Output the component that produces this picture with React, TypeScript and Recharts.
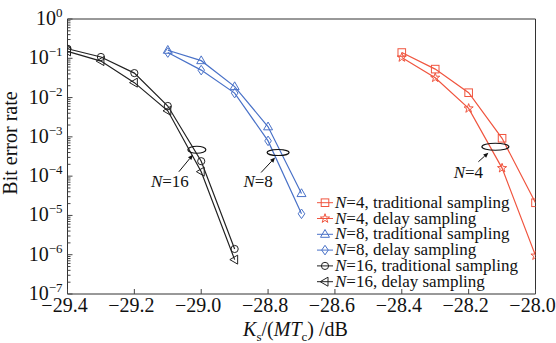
import React from 'react';
import { LineChart, Line, XAxis, YAxis, ReferenceArea, ReferenceDot, Legend } from 'recharts';

const X_N16 = [-29.4, -29.3, -29.2, -29.1, -29.0, -28.9];
const BER_N16_TRAD = [0.175, 0.108, 0.042, 0.0061, 2.4e-4, 1.4e-6];
const BER_N16_DELAY = [0.15, 0.085, 0.024, 0.0046, 1.3e-4, 7.5e-7];
const X_N8 = [-29.1, -29.0, -28.9, -28.8, -28.7];
const BER_N8_TRAD = [0.16, 0.087, 0.019, 1.8e-3, 3.6e-5];
const BER_N8_DELAY = [0.14, 0.05, 0.013, 7.9e-4, 1.1e-5];
const X_N4 = [-28.4, -28.3, -28.2, -28.1, -28.0];
const BER_N4_TRAD = [0.14, 0.053, 0.0133, 9.2e-4, 2.1e-5];
const BER_N4_DELAY = [0.105, 0.032, 5.3e-3, 1.6e-4, 9.5e-7];

const X_TICKS = [-29.4, -29.2, -29.0, -28.8, -28.6, -28.4, -28.2, -28.0];
const Y_DECADES = [-7, -6, -5, -4, -3, -2, -1, 0];
const Y_MINOR = [2, 3, 4, 5, 6, 7, 8, 9];

const RED = '#f0553f';
const BLUE = '#4a72c8';
const BLACK = '#222222';
const FONT = 'Liberation Serif';

const zip = (xs: number[], ys: number[]) => xs.map((x, i) => ({ x, y: ys[i] }));

const SERIES = [
  { name: 'N=4', label: '4, traditional sampling', data: zip(X_N4, BER_N4_TRAD), color: RED, marker: 'square' },
  { name: 'N=4d', label: '4, delay sampling', data: zip(X_N4, BER_N4_DELAY), color: RED, marker: 'star' },
  { name: 'N=8', label: '8, traditional sampling', data: zip(X_N8, BER_N8_TRAD), color: BLUE, marker: 'triangle' },
  { name: 'N=8d', label: '8, delay sampling', data: zip(X_N8, BER_N8_DELAY), color: BLUE, marker: 'diamond' },
  { name: 'N=16', label: '16, traditional sampling', data: zip(X_N16, BER_N16_TRAD), color: BLACK, marker: 'circle' },
  { name: 'N=16d', label: '16, delay sampling', data: zip(X_N16, BER_N16_DELAY), color: BLACK, marker: 'tleft' },
];

const Y_TICKS: number[] = [];
Y_DECADES.forEach(d => {
  Y_TICKS.push(Math.pow(10, d));
  if (d < 0) Y_MINOR.forEach(m => Y_TICKS.push(m * Math.pow(10, d)));
});

const Marker = ({ kind, cx, cy, color }: any) => {
  if (cx == null || cy == null) return null;
  const common = { fill: 'none', stroke: color, strokeWidth: 1 };
  switch (kind) {
    case 'square':
      return <rect x={cx - 3.8} y={cy - 3.8} width={7.6} height={7.6} {...common} />;
    case 'circle':
      return <circle cx={cx} cy={cy} r={3.6} {...common} />;
    case 'triangle':
      return <polygon points={`${cx},${cy - 4.8} ${cx + 4.5},${cy + 3} ${cx - 4.5},${cy + 3}`} {...common} />;
    case 'tleft':
      return <polygon points={`${cx - 4.8},${cy} ${cx + 3},${cy - 4.5} ${cx + 3},${cy + 4.5}`} {...common} />;
    case 'diamond':
      return <polygon points={`${cx},${cy - 4.8} ${cx + 3.3},${cy} ${cx},${cy + 4.8} ${cx - 3.3},${cy}`} {...common} />;
    case 'star': {
      const pts: string[] = [];
      for (let i = 0; i < 10; i++) {
        const r = i % 2 === 0 ? 4.8 : 1.9;
        const a = -Math.PI / 2 + (i * Math.PI) / 5;
        pts.push(`${cx + r * Math.cos(a)},${cy + r * Math.sin(a)}`);
      }
      return <polygon points={pts.join(' ')} {...common} />;
    }
  }
  return null;
};

const XTick = ({ x, y, payload }: any) => (
  <g>
    <line x1={x} y1={y} x2={x} y2={y - 5} stroke="#444" strokeWidth={1} />
    <text x={x - 3} y={y + 18} textAnchor="middle" fontFamily={FONT} fontSize={20} fill="#111">
      {payload.value.toFixed(1).replace('-', '\u2212')}
    </text>
  </g>
);

const YTick = ({ x, y, payload }: any) => {
  const lg = Math.log10(payload.value);
  const major = Math.abs(lg - Math.round(lg)) < 1e-6;
  if (!major) return <line x1={x} y1={y} x2={x + 3} y2={y} stroke="#444" strokeWidth={1} />;
  const exp = Math.round(lg);
  return (
    <g>
      <line x1={x} y1={y} x2={x + 5} y2={y} stroke="#444" strokeWidth={1} />
      <text x={x - 5} y={y + 6} textAnchor="end" fontFamily={FONT} fontSize={20} fill="#111">
        10<tspan dy={-8} fontSize={13}>{exp === 0 ? '0' : '\u2212' + Math.abs(exp)}</tspan>
      </text>
    </g>
  );
};

const XLabel = ({ viewBox }: any) => {
  const cx = viewBox.x + viewBox.width / 2 - 6;
  return (
    <text x={cx} y={336} textAnchor="middle" fontFamily={FONT} fontSize={20} fill="#111">
      <tspan fontStyle="italic">K</tspan>
      <tspan dy={5} fontSize={13}>s</tspan>
      <tspan dy={-5}>/(</tspan>
      <tspan fontStyle="italic">MT</tspan>
      <tspan dy={5} fontSize={13}>c</tspan>
      <tspan dy={-5}>) /dB</tspan>
    </text>
  );
};

const YLabel = () => (
  <text x={17} y={143} transform="rotate(-90 17 143)" textAnchor="middle" fontFamily={FONT} fontSize={20} fill="#111">
    Bit error rate
  </text>
);

const Annot = ({ cx, cy, rx, ry, text, lx, ly, ax1, ay1, ax2, ay2 }: any) => {
  const x1 = cx + ax1, y1 = cy + ay1, x2 = cx + ax2, y2 = cy + ay2;
  const ang = Math.atan2(y2 - y1, x2 - x1);
  const h = 5, w = 2.2;
  const bx = x2 - h * Math.cos(ang), by = y2 - h * Math.sin(ang);
  const head = `${x2},${y2} ${bx + w * Math.sin(ang)},${by - w * Math.cos(ang)} ${bx - w * Math.sin(ang)},${by + w * Math.cos(ang)}`;
  return (
    <g>
      <ellipse cx={cx} cy={cy} rx={rx} ry={ry} fill="none" stroke="#111" strokeWidth={1.2} />
      <line x1={x1} y1={y1} x2={bx} y2={by} stroke="#111" strokeWidth={1} />
      <polygon points={head} fill="#111" />
      <text x={cx + lx} y={cy + ly} textAnchor="middle" fontFamily={FONT} fontSize={17} fill="#111">
        <tspan fontStyle="italic">N</tspan>={text}
      </text>
    </g>
  );
};

const renderLegend = () => (
  <svg width={242} height={100}>
    {SERIES.map((s, i) => {
      const y = 9.7 + i * 15.8;
      return (
        <g key={s.name}>
          <line x1={3} y1={y} x2={19} y2={y} stroke={s.color} strokeWidth={1} />
          <Marker kind={s.marker} cx={11} cy={y} color={s.color} />
          <text x={21} y={y + 5} fontFamily={FONT} fontSize={17} fill="#111">
            <tspan fontStyle="italic">N</tspan>={s.label}
          </text>
        </g>
      );
    })}
  </svg>
);

export default function App() {
  return (
    <div style={{ position: 'relative', width: 556, height: 343, background: '#fff' }}>
      <style>{'body{margin:0}'}</style>
      <LineChart width={556} height={343} margin={{ top: 19, right: 20.5, left: 0, bottom: 0 }}>
        <XAxis
          type="number"
          dataKey="x"
          domain={[-29.4, -28.0]}
          ticks={X_TICKS}
          allowDataOverflow
          axisLine={false}
          tickLine={false}
          tickSize={0}
          tickMargin={0}
          height={49}
          tick={<XTick />}
          interval={0}
          label={<XLabel />}
        />
        <YAxis
          type="number"
          scale="log"
          domain={[1e-7, 1]}
          ticks={Y_TICKS}
          allowDataOverflow
          axisLine={false}
          tickLine={false}
          tickSize={0}
          tickMargin={0}
          width={67.5}
          tick={<YTick />}
          interval={0}
          label={<YLabel />}
        />
        <ReferenceArea x1={-29.4} x2={-28.0} y1={1e-7} y2={1} fill="none" stroke="#333" strokeWidth={1} />
        {SERIES.map(s => (
          <Line
            key={s.name}
            data={s.data}
            dataKey="y"
            name={s.name}
            type="linear"
            stroke={s.color}
            strokeWidth={1.2}
            isAnimationActive={false}
            dot={(p: any) => <Marker key={`${s.name}-${p.index}`} kind={s.marker} cx={p.cx} cy={p.cy} color={s.color} />}
            activeDot={false}
          />
        ))}
        <ReferenceDot x={-29.013} y={4.7e-4} r={1} shape={(p: any) => (
          <Annot cx={p.cx} cy={p.cy} rx={9} ry={3.5} text="16" lx={-27} ly={37} ax1={-18} ay1={22} ax2={-4} ay2={5} />
        )} />
        <ReferenceDot x={-28.77} y={4e-4} r={1} shape={(p: any) => (
          <Annot cx={p.cx} cy={p.cy} rx={11} ry={3} text="8" lx={-20} ly={35} ax1={-17} ay1={20} ax2={-3} ay2={5} />
        )} />
        <ReferenceDot x={-28.12} y={5.6e-4} r={1} shape={(p: any) => (
          <Annot cx={p.cx} cy={p.cy} rx={13.5} ry={3.5} text="4" lx={-27} ly={31} ax1={-17} ay1={15} ax2={-7} ay2={6} />
        )} />
        <Legend
          layout="vertical"
          align="center"
          verticalAlign="middle"
          content={renderLegend}
          wrapperStyle={{ position: 'absolute', left: 314, top: 193, width: 242, height: 100 }}
        />
      </LineChart>
    </div>
  );
}
